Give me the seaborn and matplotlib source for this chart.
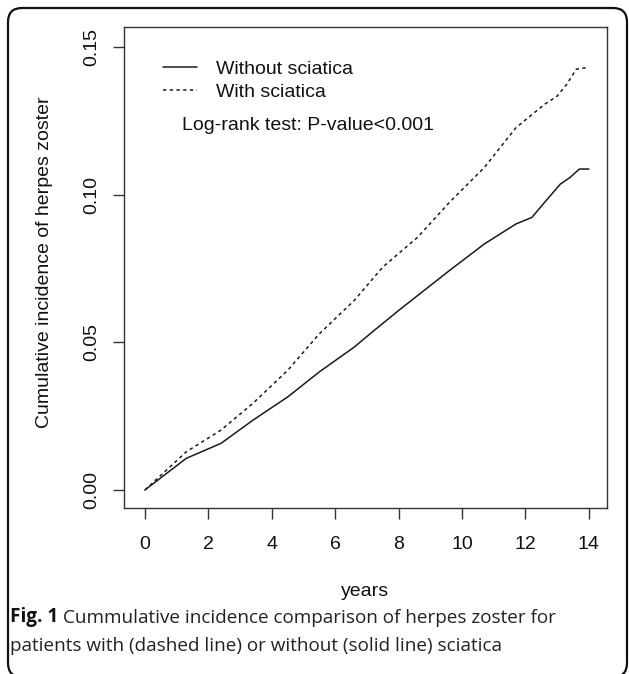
import matplotlib
matplotlib.use("Agg")
import matplotlib.pyplot as plt
from matplotlib.patches import FancyBboxPatch
from matplotlib.transforms import IdentityTransform
import numpy as np
import pandas as pd
import seaborn as sns

# ---- data ----
without_t = [0, 1.3, 2.4, 3.4, 4.5, 5.5, 6.6, 7.1, 8.0, 9.6, 10.7, 11.2, 11.7, 12.2, 12.6, 13.1, 13.4, 13.7, 14.0]
without_v = [0, 0.0107, 0.0158, 0.0236, 0.0315, 0.0400, 0.0484, 0.0529, 0.0608, 0.0743, 0.0833,
             0.0867, 0.0901, 0.0923, 0.0974, 0.1036, 0.1058, 0.1087, 0.1087]
with_t = [0, 1.3, 2.4, 3.4, 4.5, 5.5, 6.6, 7.5, 8.6, 9.6, 10.7, 11.7, 12.6, 13.0, 13.3, 13.6, 14.0]
with_v = [0, 0.0129, 0.0203, 0.0293, 0.0405, 0.0529, 0.0642, 0.0755, 0.0856, 0.0974, 0.1092,
          0.1227, 0.1306, 0.1334, 0.1374, 0.1425, 0.1432]
series_names = ["Without sciatica", "With sciatica"]
x_ticks = [0, 2, 4, 6, 8, 10, 12, 14]
y_ticks = [0.00, 0.05, 0.10, 0.15]
y_tick_labels = ["0.00", "0.05", "0.10", "0.15"]

df = pd.concat([
    pd.DataFrame({"years": without_t, "inc": without_v, "group": series_names[0]}),
    pd.DataFrame({"years": with_t, "inc": with_v, "group": series_names[1]}),
], ignore_index=True)

sns.set_theme(style="white")
plt.rcParams["font.family"] = ["Liberation Sans", "DejaVu Sans"]

W, H = 629, 674
fig = plt.figure(figsize=(W / 100, H / 100), dpi=100)
fig.patch.set_facecolor("white")

ax = fig.add_axes([124 / W, (H - 508) / H, (607 - 124) / W, (508 - 27) / H])
ink = "#1a1a1a"
sns.lineplot(data=df, x="years", y="inc", style="group", style_order=series_names,
             dashes={series_names[0]: "", series_names[1]: (2.2, 2.2)},
             color=ink, linewidth=1.1, estimator=None, ax=ax)

ax.set_xlim(-0.66, 14.57)
ax.set_ylim(-0.0061, 0.1568)
ax.set_xticks(x_ticks)
ax.set_xticklabels([str(v) for v in x_ticks])
ax.set_yticks(y_ticks)
ax.set_yticklabels(y_tick_labels)
ax.set_xlabel("")
ax.set_ylabel("")
for s in ax.spines.values():
    s.set_visible(True)
    s.set_color("#333333")
    s.set_linewidth(1.0)
ax.tick_params(axis="both", direction="out", length=8, width=1.0, color="#333333",
               labelsize=14, labelcolor="#111111")
ax.tick_params(axis="x", pad=12, bottom=True)
ax.tick_params(axis="y", pad=9, left=True, labelrotation=90)
for lab in ax.get_yticklabels():
    lab.set_va("center")

old = ax.get_legend()
handles = old.legend_handles
labels = [t.get_text() for t in old.texts]
old.remove()
ax.legend(handles, labels, loc="upper left", bbox_to_anchor=(163, H - 60),
          bbox_transform=IdentityTransform(), frameon=False, borderpad=0,
          borderaxespad=0, handlelength=1.75, handletextpad=0.95, labelspacing=0.3,
          fontsize=14, labelcolor="#111111")

ax.text(182, H - 126, "Log-rank test: P-value<0.001", transform=IdentityTransform(),
        ha="left", va="center", fontsize=14, color="#111111")

fig.text(45 / W, 1 - 262 / H, "Cumulative incidence of herpes zoster", rotation=90,
         ha="center", va="center", fontsize=14, color="#111111")
fig.text(365 / W, 1 - 592 / H, "years", ha="center", va="center", fontsize=14, color="#111111")

# caption
cap_font = ["Open Sans", "DejaVu Sans"]
t1 = fig.text(10 / W, 1 - 627 / H, "Fig. 1", ha="left", va="bottom", fontsize=13.6,
              fontweight="bold", family=cap_font, color="#111111")
ax.annotate("Cummulative incidence comparison of herpes zoster for", xy=(1, 0),
            xycoords=t1, xytext=(3.5, 0), textcoords="offset points", ha="left", va="bottom",
            fontsize=13.6, family=cap_font, color="#222222", annotation_clip=False)
fig.text(10 / W, 1 - 655 / H, "patients with (dashed line) or without (solid line) sciatica",
         ha="left", va="bottom", fontsize=13.6, family=cap_font, color="#222222")

# rounded frame
frame = FancyBboxPatch((8, -3), 619, 669, boxstyle="round,pad=0,rounding_size=14",
                       transform=IdentityTransform(), fill=False, edgecolor="#111111",
                       linewidth=1.6)
fig.add_artist(frame)

fig.savefig("out.png", dpi=100)
